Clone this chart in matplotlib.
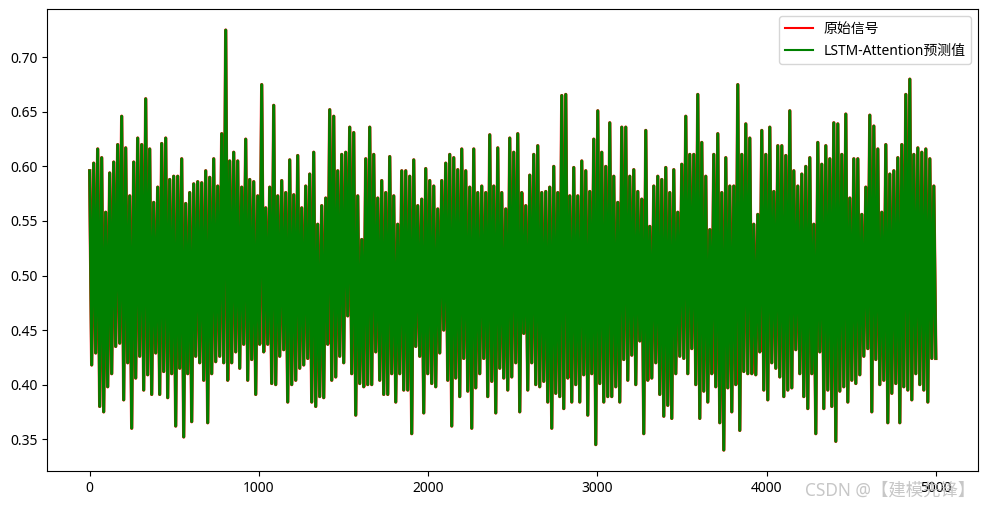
import numpy as np
import matplotlib
matplotlib.use('Agg')
import matplotlib.pyplot as plt

plt.rcParams['font.family'] = ['Noto Sans', 'Noto Sans CJK SC', 'DejaVu Sans']

# upper spikes of the signal, read left to right (about every 24 samples)
signal_high = [
    0.596, 0.603, 0.616, 0.608, 0.558, 0.594, 0.604, 0.620, 0.646, 0.617, 0.573, 0.604, 0.626, 0.620,
    0.662, 0.616, 0.567, 0.581, 0.621, 0.626, 0.588, 0.591, 0.591, 0.607, 0.566, 0.576, 0.584,
    0.586, 0.585, 0.596, 0.590, 0.607, 0.582, 0.630, 0.725, 0.605, 0.613, 0.605, 0.581, 0.625, 0.588,
    0.586, 0.573, 0.675, 0.562, 0.581, 0.656, 0.573, 0.587, 0.576, 0.606, 0.574, 0.610,
    0.562, 0.582, 0.593, 0.613, 0.547, 0.564, 0.571, 0.652, 0.646, 0.596, 0.611, 0.613, 0.636, 0.631,
    0.573, 0.533, 0.607, 0.636, 0.611, 0.571, 0.587, 0.576, 0.609, 0.573, 0.547, 0.596,
    0.596, 0.591, 0.606, 0.564, 0.570, 0.598, 0.587, 0.582, 0.561, 0.587, 0.603, 0.611, 0.608, 0.597,
    0.616, 0.596, 0.581, 0.616, 0.576, 0.582, 0.576, 0.629, 0.582, 0.617, 0.576, 0.561, 0.626,
    0.613, 0.630, 0.576, 0.564, 0.592, 0.611, 0.619, 0.576, 0.577, 0.581, 0.600, 0.576, 0.665, 0.666,
    0.573, 0.599, 0.573, 0.605, 0.596, 0.577, 0.625, 0.651, 0.613, 0.600, 0.640, 0.591,
    0.567, 0.636, 0.636, 0.591, 0.597, 0.577, 0.570, 0.633, 0.545, 0.582, 0.591, 0.588, 0.599, 0.576,
    0.597, 0.558, 0.602, 0.646, 0.611, 0.611, 0.666, 0.622, 0.591, 0.542, 0.611, 0.630,
    0.576, 0.608, 0.582, 0.582, 0.675, 0.611, 0.639, 0.626, 0.547, 0.556, 0.633, 0.611, 0.636, 0.577,
    0.619, 0.619, 0.610, 0.651, 0.596, 0.582, 0.593, 0.600, 0.608, 0.547, 0.622, 0.602, 0.619,
    0.607, 0.640, 0.639, 0.611, 0.648, 0.571, 0.607, 0.607, 0.556, 0.581, 0.647, 0.637, 0.616, 0.558,
    0.620, 0.593, 0.596, 0.608, 0.620, 0.666, 0.680, 0.611, 0.617, 0.613, 0.616, 0.607, 0.582,
]

# lower spikes, same positions
signal_low = [
    0.418, 0.429, 0.380, 0.375, 0.398, 0.410, 0.435, 0.438, 0.386, 0.420, 0.360, 0.406, 0.426, 0.395,
    0.409, 0.391, 0.429, 0.391, 0.412, 0.388, 0.410, 0.362, 0.415, 0.352, 0.410, 0.366, 0.426,
    0.420, 0.404, 0.365, 0.410, 0.421, 0.426, 0.420, 0.404, 0.420, 0.430, 0.415, 0.437, 0.404, 0.423,
    0.391, 0.437, 0.430, 0.437, 0.401, 0.400, 0.426, 0.432, 0.384, 0.400, 0.404, 0.415,
    0.418, 0.424, 0.384, 0.380, 0.389, 0.388, 0.437, 0.404, 0.407, 0.426, 0.420, 0.463, 0.410, 0.372,
    0.401, 0.398, 0.400, 0.400, 0.430, 0.404, 0.391, 0.391, 0.410, 0.384, 0.410, 0.395,
    0.395, 0.355, 0.435, 0.426, 0.374, 0.410, 0.401, 0.398, 0.429, 0.450, 0.404, 0.362, 0.406, 0.389,
    0.424, 0.394, 0.360, 0.397, 0.410, 0.424, 0.389, 0.403, 0.374, 0.415, 0.406, 0.395, 0.407,
    0.420, 0.375, 0.447, 0.395, 0.420, 0.400, 0.398, 0.403, 0.384, 0.360, 0.392, 0.389, 0.378, 0.406,
    0.384, 0.400, 0.384, 0.409, 0.372, 0.410, 0.345, 0.401, 0.384, 0.389, 0.389, 0.398,
    0.384, 0.423, 0.404, 0.427, 0.400, 0.440, 0.355, 0.404, 0.406, 0.420, 0.391, 0.371, 0.381, 0.369,
    0.410, 0.426, 0.424, 0.410, 0.433, 0.400, 0.369, 0.394, 0.384, 0.410, 0.398, 0.365,
    0.340, 0.397, 0.375, 0.400, 0.358, 0.412, 0.410, 0.410, 0.409, 0.430, 0.395, 0.386, 0.420, 0.415,
    0.407, 0.389, 0.395, 0.397, 0.432, 0.410, 0.389, 0.378, 0.410, 0.355, 0.430, 0.378, 0.395,
    0.380, 0.348, 0.394, 0.398, 0.384, 0.404, 0.401, 0.409, 0.426, 0.433, 0.375, 0.423, 0.400, 0.404,
    0.365, 0.392, 0.401, 0.365, 0.398, 0.395, 0.386, 0.410, 0.400, 0.395, 0.384, 0.424, 0.424,
]

n_samples = 5000
labels = ['原始信号', 'LSTM-Attention预测值']

series = np.column_stack([signal_high, signal_low]).ravel()
t = np.linspace(0, n_samples - 1, len(series))

fig, ax = plt.subplots(figsize=(9.87, 5.07), dpi=100)
fig.subplots_adjust(left=0.048, right=0.991, top=0.982, bottom=0.071)

ax.plot(t, series, color='red', linewidth=2.4, label=labels[0])
ax.plot(t, series, color='green', linewidth=2.1, label=labels[1])

leg = ax.legend(loc='upper right', fontsize=10)
for h in leg.get_lines():
    h.set_linewidth(1.5)

fig.text(0.988, 0.033, 'CSDN @【建模先锋】', ha='right', va='center',
         fontsize=12.5, color='#bdbdbd', alpha=0.85)

fig.savefig('out.png', dpi=100)
